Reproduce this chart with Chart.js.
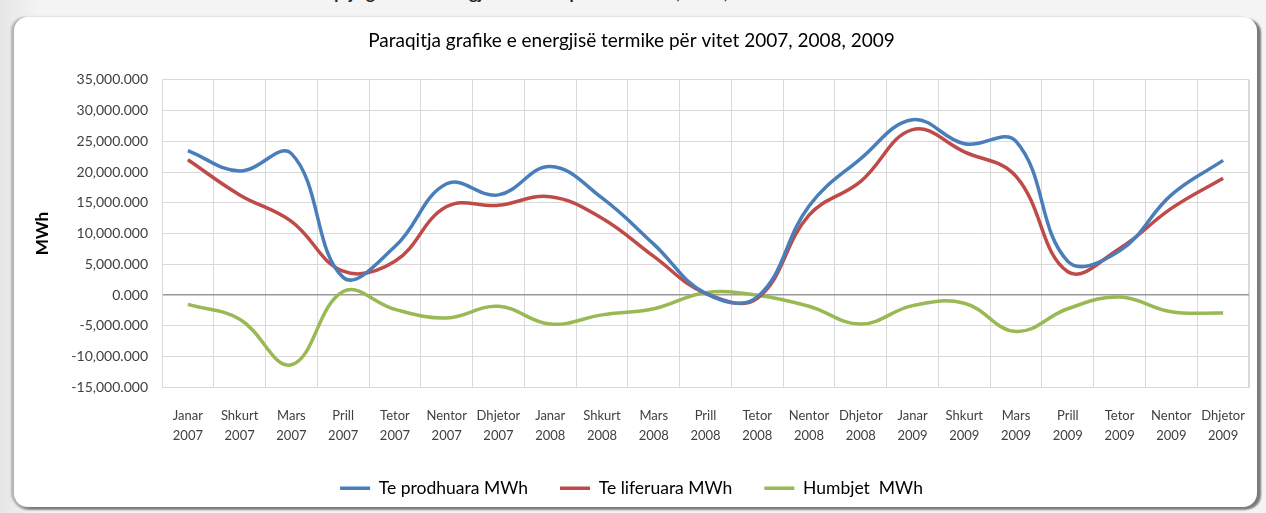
<!DOCTYPE html>
<html lang="sq">
<head>
  <meta charset="UTF-8" />
  <title>Energjia termike 2007-2009</title>
  <style>
    html, body {
      margin: 0;
      padding: 0;
      width: 1266px;
      height: 513px;
      overflow: hidden;
      background: linear-gradient(to right, #e6e6e6, #f4f4f4 40px, #f4f4f4);
      font-family: Lato, sans-serif;
    }
    .heading {
      position: absolute;
      left: 295px;
      top: -18px;
      font: bold 17px Lato, sans-serif;
      color: #222;
      white-space: nowrap;
    }
    .frame {
      position: absolute;
      left: 14px;
      top: 17px;
      width: 1243px;
      height: 490px;
      background: #fff;
      border-radius: 14px;
      box-shadow: 4px 2px 2px #7a7a7a, -3px 0 2px #b4b4b4, 0 3px 2px #9a9a9a;
    }
    #chart {
      position: absolute;
      left: 0;
      top: 0;
    }
  </style>
</head>
<body>
  <div class="heading">Paraqitja grafike e energjisë termike për vitet 2007, 2008, 2009</div>
  <div class="frame">
    <canvas id="chart" width="1243" height="490"></canvas>
  </div>

  <script src="https://cdn.jsdelivr.net/npm/chart.js"></script>
  <script>
    const months = ['Janar', 'Shkurt', 'Mars', 'Prill', 'Tetor', 'Nentor', 'Dhjetor',
                    'Janar', 'Shkurt', 'Mars', 'Prill', 'Tetor', 'Nentor', 'Dhjetor',
                    'Janar', 'Shkurt', 'Mars', 'Prill', 'Tetor', 'Nentor', 'Dhjetor'];
    const years = ['2007', '2007', '2007', '2007', '2007', '2007', '2007',
                   '2008', '2008', '2008', '2008', '2008', '2008', '2008',
                   '2009', '2009', '2009', '2009', '2009', '2009', '2009'];

    // vlerat ne mijera (axis shows 35,000.000 etc.)
    const prodhuara = [23500, 20200, 23000, 2900, 7900, 18100, 16300, 20900, 15800, 8300, 300, -300,
                       14500, 22200, 28500, 24600, 25000, 5500, 7200, 16300, 21900];
    const liferuara = [22000, 16300, 12000, 3900, 5500, 14400, 14600, 16000, 12500, 6300, 300, -500,
                       13000, 18500, 26900, 23300, 19300, 3800, 7600, 14100, 19000];
    const humbjet = [-1500, -3900, -11300, 600, -2300, -3700, -1800, -4700, -3200, -2200, 400, 0,
                     -1800, -4700, -1700, -1300, -5900, -2200, -300, -2700, -2900];

    const yTicks = [-15000, -10000, -5000, 0, 5000, 10000, 15000, 20000, 25000, 30000, 35000];

    const labels = months.map((m, i) => [m, years[i]]);

    function fmt(v) {
      return v.toLocaleString('en-US', { minimumFractionDigits: 3, maximumFractionDigits: 3 });
    }

    function line(label, data, color) {
      return {
        label,
        data,
        borderColor: color,
        backgroundColor: color,
        borderWidth: 3.5,
        pointRadius: 0,
        tension: 0.4,
        fill: false
      };
    }

    new Chart(document.getElementById('chart'), {
      type: 'line',
      data: {
        labels,
        datasets: [
          line('Te prodhuara MWh', prodhuara, '#4a7ebb'),
          line('Te liferuara MWh', liferuara, '#be4b48'),
          line('Humbjet  MWh', humbjet, '#98b954')
        ]
      },
      options: {
        responsive: false,
        animation: false,
        layout: { padding: { left: 0, right: 8, top: 0, bottom: 0 } },
        plugins: {
          title: {
            display: true,
            text: 'Paraqitja grafike e energjisë termike për vitet 2007, 2008, 2009',
            color: '#000',
            font: { family: 'Lato', size: 19, weight: 'normal' },
            padding: { top: 12, bottom: 28 }
          },
          legend: {
            position: 'bottom',
            labels: {
              usePointStyle: true,
              pointStyle: 'line',
              pointStyleWidth: 30,
              color: '#000',
              font: { family: 'Lato', size: 17.5 },
              padding: 32
            }
          },
          tooltip: { enabled: false }
        },
        scales: {
          x: {
            offset: true,
            grid: { offset: true, color: '#d9d9d9', drawTicks: false },
            border: { color: '#d9d9d9' },
            ticks: {
              color: '#404040',
              font: { family: 'Lato', size: 13, lineHeight: '20px' },
              padding: 18,
              maxRotation: 0,
              autoSkip: false
            },
            afterFit: s => { s.height = 60; s.paddingLeft = 0; s.paddingRight = 0; }
          },
          y: {
            min: -15000,
            max: 35000,
            afterBuildTicks: s => { s.ticks = yTicks.map(v => ({ value: v })); },
            grid: {
              color: c => (c.tick && c.tick.value === 0 ? '#9a9a9a' : '#d9d9d9'),
              lineWidth: c => (c.tick && c.tick.value === 0 ? 1.5 : 1),
              drawTicks: false
            },
            border: { color: '#d9d9d9' },
            ticks: {
              color: '#404040',
              font: { family: 'Lato', size: 14 },
              padding: 14,
              callback: v => fmt(v)
            },
            title: {
              display: true,
              text: 'MWh',
              color: '#000',
              font: { family: 'Lato', size: 17, weight: 'bold' },
              padding: { top: 18, bottom: 0 }
            },
            afterFit: s => { s.width = 148; }
          }
        }
      },
      plugins: [{
        id: 'rightBorder',
        afterDraw(chart) {
          const a = chart.chartArea, ctx = chart.ctx;
          ctx.save();
          ctx.strokeStyle = '#d9d9d9';
          ctx.lineWidth = 1;
          ctx.beginPath();
          ctx.moveTo(a.right + 0.5, a.top);
          ctx.lineTo(a.right + 0.5, a.bottom);
          ctx.stroke();
          ctx.restore();
        }
      }]
    });
  </script>
</body>
</html>
